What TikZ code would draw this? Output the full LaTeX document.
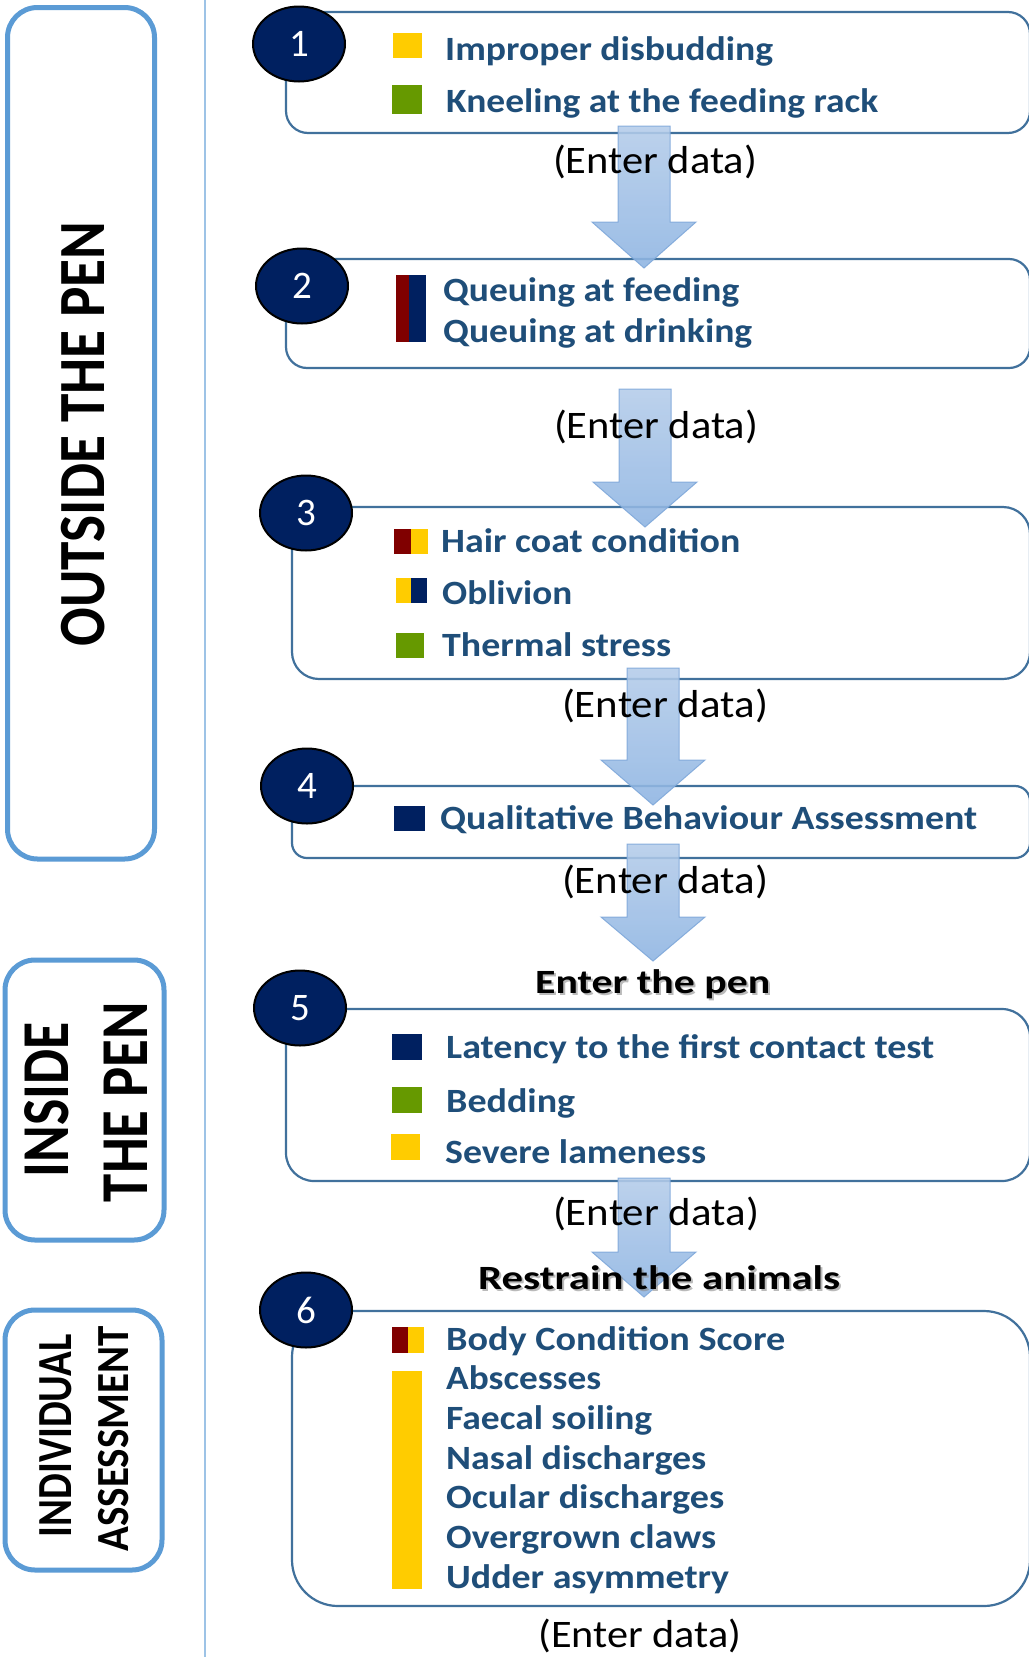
\documentclass[tikz,border=0pt]{standalone}
\usepackage{fontspec}
\setmainfont{Carlito}
\usepackage{graphicx}
\usetikzlibrary{shapes.geometric}
\definecolor{itemblue}{HTML}{1F4E79}
\definecolor{boxline}{HTML}{41719C}
\definecolor{leftline}{HTML}{5B9BD5}
\definecolor{vline}{HTML}{9DC3E6}
\definecolor{navy}{HTML}{002060}
\definecolor{yel}{HTML}{FFCC00}
\definecolor{grn}{HTML}{669900}
\definecolor{mar}{HTML}{800000}
\definecolor{arrtop}{HTML}{B4CCEA}
\definecolor{arrbot}{HTML}{8DB4E2}
\definecolor{arredge}{HTML}{7FA8DA}
\newcommand{\fitw}[2]{\resizebox{#1pt}{\height}{#2}}
\tikzset{
  x=1pt, y=-1pt,
  leftbox/.style={draw=leftline, line width=5pt, rounded corners=30pt},
  stepbox/.style={draw=boxline, line width=2.2pt},
  itemtext/.style={anchor=base west, inner sep=0pt, text=itemblue, font=\fontsize{34}{34}\selectfont\bfseries},
  entertext/.style={anchor=base, inner sep=0pt, text=black, font=\fontsize{39}{39}\selectfont},
  headtext/.style={anchor=base west, inner sep=0pt, text=black, font=\fontsize{34}{34}\selectfont\bfseries},
  headshadow/.style={anchor=base west, inner sep=0pt, text=black!45, text opacity=0.6, font=\fontsize{34}{34}\selectfont\bfseries},
  sidetext/.style={anchor=base, inner sep=0pt, rotate=90, text=black},
  numcirc/.style={ellipse, draw=black, line width=2pt, fill=navy, text=white, minimum width=92pt, minimum height=75pt, inner sep=0pt, font=\fontsize{39}{39}\selectfont},
  blockarrow/.style={draw=arredge, line width=1pt, top color=arrtop, bottom color=arrbot, fill opacity=0.88, draw opacity=0.9},
}
\newcommand{\barrow}[4]{% cx, top, base, tip
  \path[blockarrow] (#1-26,#2) -- (#1+26,#2) -- (#1+26,#3) -- (#1+52,#3) -- (#1,#4) -- (#1-52,#3) -- (#1-26,#3) -- cycle;}
\begin{document}
\begin{tikzpicture}
\useasboundingbox (0,0) rectangle (1028,1657);
\fill[white] (0,0) rectangle (1028,1657);

% separator line
\coordinate (vtop) at (205,0);
\coordinate (vbot) at (205,1657);
\draw[vline, line width=2pt] (vtop) -- (vbot);

% left category boxes
\draw[leftbox] (7.5,7.5) rectangle (154.5,859);
\draw[leftbox] (5,960) rectangle (164,1240);
\draw[leftbox] (5,1310) rectangle (162,1570);

\node[sidetext, font=\fontsize{66}{66}\selectfont\bfseries] (outside) at (104,434) {\fitw{425}{OUTSIDE THE PEN}};
\node[sidetext, font=\fontsize{67}{67}\selectfont\bfseries] (inside1) at (68,1100) {\fitw{155}{INSIDE}};
\node[sidetext, font=\fontsize{67}{67}\selectfont\bfseries] (inside2) at (147,1102) {\fitw{200}{THE PEN}};
\node[sidetext, font=\fontsize{49}{49}\selectfont\bfseries] (indiv1) at (71,1436) {\fitw{203}{INDIVIDUAL}};
\node[sidetext, font=\fontsize{46}{46}\selectfont\bfseries] (indiv2) at (128,1439) {\fitw{225}{ASSESSMENT}};

% step boxes
\draw[stepbox, rounded corners=22pt] (286,12) rectangle (1030,133);
\draw[stepbox, rounded corners=21pt] (286,259) rectangle (1030,368);
\draw[stepbox, rounded corners=27pt] (292,507) rectangle (1030,679);
\draw[stepbox, rounded corners=15pt] (292,786) rectangle (1030,858);
\draw[stepbox, rounded corners=28pt] (286,1009) rectangle (1030,1181);
\draw[stepbox, rounded corners=46pt] (292,1311) rectangle (1030,1606);

% block arrows
\barrow{644}{126}{222}{268}
\barrow{645}{389}{482}{527}
\barrow{653}{668}{760}{805}
\barrow{653}{844}{917}{961}
\barrow{644}{1178}{1252}{1297}

% number circles
\node[numcirc] (c1) at (299,44) {1};
\node[numcirc] (c2) at (302,286) {2};
\node[numcirc] (c3) at (306,513) {3};
\node[numcirc] (c4) at (307,786) {4};
\node[numcirc] (c5) at (300,1008) {5};
\node[numcirc] (c6) at (306,1310) {6};

% markers
\fill[yel] (393,33) rectangle (422,58);
\fill[grn] (392,85) rectangle (422,114);
\fill[mar] (396,275) rectangle (409,342);
\fill[navy] (409,275) rectangle (426,342);
\fill[mar] (394,529) rectangle (411,554);
\fill[yel] (411,529) rectangle (428,554);
\fill[yel] (396,578) rectangle (411,603);
\fill[navy] (411,578) rectangle (427,603);
\fill[grn] (396,633) rectangle (424,658);
\fill[navy] (394,806) rectangle (425,831);
\fill[navy] (392,1034) rectangle (422,1060);
\fill[grn] (392,1087) rectangle (422,1113);
\fill[yel] (391,1134) rectangle (420,1160);
\fill[mar] (392,1327) rectangle (408,1353);
\fill[yel] (408,1327) rectangle (424,1353);
\fill[yel] (392,1371) rectangle (422,1589);

% item texts
\node[itemtext] (t11) at (445,60) {\fitw{328}{Improper disbudding}};
\node[itemtext] (t12) at (446,112) {\fitw{432}{Kneeling at the feeding rack}};
\node[itemtext] (t21) at (443,301) {\fitw{296}{Queuing at feeding}};
\node[itemtext] (t22) at (443,342) {\fitw{309}{Queuing at drinking}};
\node[itemtext] (t31) at (441,552) {\fitw{299}{Hair coat condition}};
\node[itemtext] (t32) at (442,604) {\fitw{130}{Oblivion}};
\node[itemtext] (t33) at (442,656) {\fitw{229}{Thermal stress}};
\node[itemtext] (t41) at (440,829) {\fitw{537}{Qualitative Behaviour Assessment}};
\node[itemtext] (t51) at (446,1058) {\fitw{488}{Latency to the first contact test}};
\node[itemtext] (t52) at (446,1112) {\fitw{129}{Bedding}};
\node[itemtext] (t53) at (445,1163) {\fitw{261}{Severe lameness}};
\node[itemtext] (t61) at (446,1350) {\fitw{339}{Body Condition Score}};
\node[itemtext] (t62) at (446,1389) {\fitw{155}{Abscesses}};
\node[itemtext] (t63) at (446,1429) {\fitw{206}{Faecal soiling}};
\node[itemtext] (t64) at (446,1469) {\fitw{260}{Nasal discharges}};
\node[itemtext] (t65) at (446,1508) {\fitw{278}{Ocular discharges}};
\node[itemtext] (t66) at (446,1548) {\fitw{270}{Overgrown claws}};
\node[itemtext] (t67) at (446,1588) {\fitw{283}{Udder asymmetry}};

% headings
\node[headshadow] (h1s) at (537,995) {\fitw{235}{Enter the pen}};
\node[headtext] (h1) at (535,993) {\fitw{235}{Enter the pen}};
\node[headshadow] (h2s) at (480,1291) {\fitw{362}{Restrain the animals}};
\node[headtext] (h2) at (478,1289) {\fitw{362}{Restrain the animals}};

% enter data labels
\node[entertext] (e1) at (655,173) {\fitw{204}{(Enter data)}};
\node[entertext] (e2) at (656,438) {\fitw{204}{(Enter data)}};
\node[entertext] (e3) at (665,717) {\fitw{206}{(Enter data)}};
\node[entertext] (e4) at (665,893) {\fitw{206}{(Enter data)}};
\node[entertext] (e5) at (656,1225) {\fitw{206}{(Enter data)}};
\node[entertext] (e6) at (640,1647) {\fitw{203}{(Enter data)}};
\end{tikzpicture}
\end{document}
